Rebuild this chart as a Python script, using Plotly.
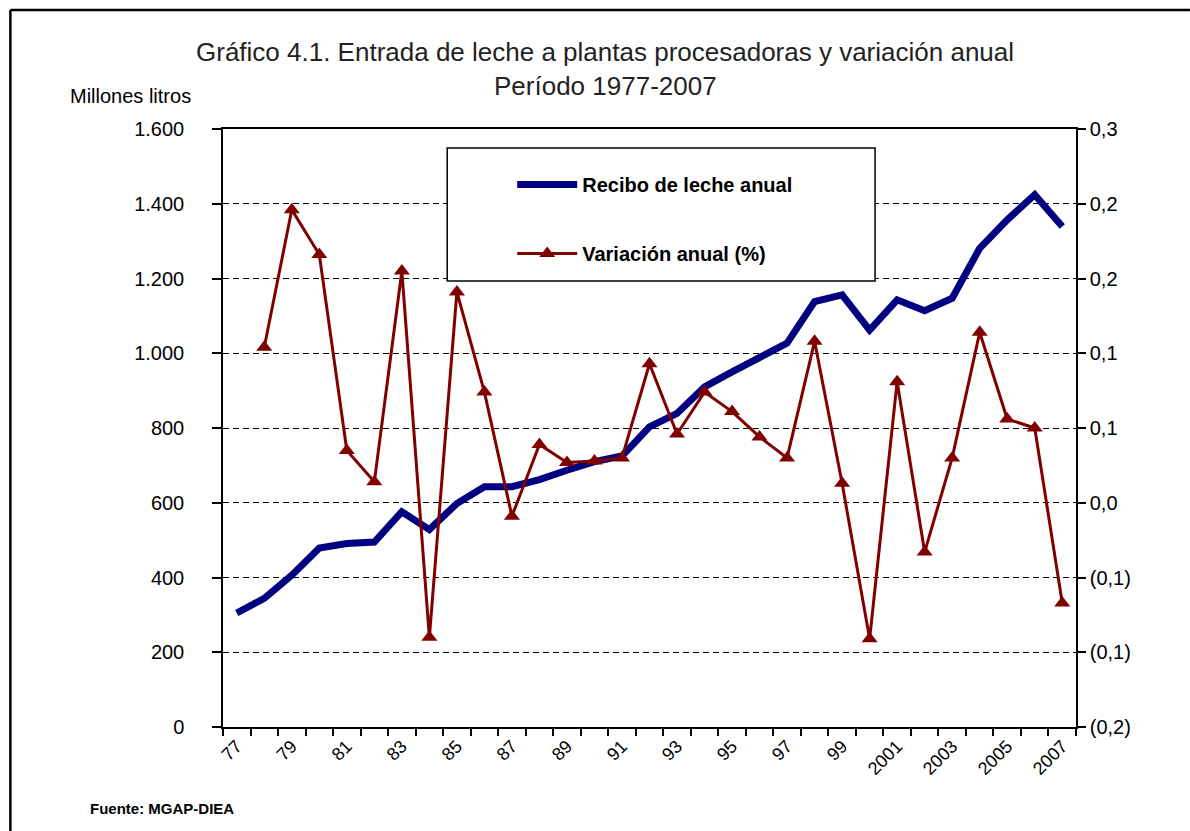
import plotly.graph_objects as go

years = list(range(1977, 2008))
recibo = [305, 344, 406, 479, 491, 495, 576, 528, 598, 643, 643, 662, 687, 710, 725,
          803, 839, 910, 950, 991, 1027, 1138, 1156, 1062, 1143, 1114, 1147, 1281, 1357, 1424, 1339]
var_years = list(range(1978, 2008))
variacion = [0.104, 0.196, 0.166, 0.035, 0.014, 0.155, -0.090, 0.141, 0.074, -0.009,
             0.039, 0.027, 0.028, 0.030, 0.093, 0.046, 0.074, 0.061, 0.044, 0.030,
             0.108, 0.013, -0.091, 0.081, -0.033, 0.030, 0.114, 0.056, 0.050, -0.067]
tick_years = list(range(1977, 2008, 2))
tick_text = ["77", "79", "81", "83", "85", "87", "89", "91", "93", "95", "97", "99",
             "2001", "2003", "2005", "2007"]
right_vals = [-0.15, -0.10, -0.05, 0.0, 0.05, 0.10, 0.15, 0.20, 0.25]
right_text = ["(0,2)", "(0,1)", "(0,1)", "0,0", "0,1", "0,1", "0,2", "0,2", "0,3"]

W, H = 1190, 831
L, R, T, B = 222.7, 1076.0, 129.0, 726.7
pw, ph = R - L, B - T
def px(x): return (x - L) / pw
def py(y): return (B - y) / ph

FONT = "Liberation Sans, Arial, sans-serif"

fig = go.Figure()
fig.add_trace(go.Scatter(
    x=years, y=recibo, name="Recibo de leche anual", mode="lines",
    line=dict(color="#000080", width=7), legendgroup="a"))
fig.add_trace(go.Scatter(
    x=var_years, y=variacion, name="Variación anual (%)", mode="lines+markers",
    line=dict(color="#800000", width=3),
    marker=dict(symbol="triangle-up", size=14, color="#800000"),
    yaxis="y2", legendgroup="b"))

fig.update_layout(
    width=W, height=H,
    margin=dict(l=L, r=W - R, t=T, b=H - B, pad=0),
    paper_bgcolor="white", plot_bgcolor="white",
    separators=",.",
    font=dict(family=FONT, color="black"),
    showlegend=True,
    legend=dict(x=px(512), y=py(165), xanchor="left", yanchor="top",
                bgcolor="rgba(0,0,0,0)", borderwidth=0,
                font=dict(size=20, family=FONT, weight="bold"),
                tracegroupgap=40, itemwidth=60),
    xaxis=dict(range=[1976.5, 2007.5], tickmode="array", tickvals=tick_years,
               ticktext=tick_text, tickangle=-45, ticks="", showgrid=False,
               showline=True, linecolor="black", linewidth=1.5, mirror=True,
               tickfont=dict(size=18), zeroline=False,
               minor=dict(tickmode="array", tickvals=[1976.5 + i for i in range(32)],
                          ticks="outside", ticklen=7, tickcolor="black", tickwidth=1.5,
                          showgrid=False)),
    yaxis=dict(range=[0, 1600], tickvals=[0, 200, 400, 600, 800, 1000, 1200, 1400, 1600],
               tickformat=",d", ticks="outside", ticklen=9, tickcolor="black", tickwidth=1.5,
               showline=True, linecolor="black", linewidth=1.5,
               showgrid=True, gridcolor="black", gridwidth=1.2, griddash="6px,4px",
               zeroline=False, tickfont=dict(size=20), ticklabelstandoff=24),
    yaxis2=dict(range=[-0.15, 0.25], overlaying="y", side="right",
                tickmode="array", tickvals=right_vals, ticktext=right_text,
                ticks="outside", ticklen=8, tickcolor="black", tickwidth=1.5,
                showline=True, linecolor="black", linewidth=1.5, showgrid=False,
                zeroline=False, tickfont=dict(size=20)),
    shapes=[
        dict(type="rect", xref="paper", yref="paper", x0=px(447), x1=px(875),
             y0=py(281), y1=py(148), fillcolor="white",
             line=dict(color="black", width=1.5), layer="above"),
        dict(type="line", xref="paper", yref="paper", x0=px(10), x1=px(1190),
             y0=py(10), y1=py(10), line=dict(color="black", width=2.5)),
        dict(type="line", xref="paper", yref="paper", x0=px(10), x1=px(10),
             y0=py(10), y1=py(831), line=dict(color="black", width=2.5)),
    ],
    annotations=[
        dict(text="Gráfico 4.1. Entrada de leche a plantas procesadoras y variación anual",
             xref="paper", yref="paper", x=px(605), y=py(52), showarrow=False,
             xanchor="center", yanchor="middle", font=dict(size=26, color="#222222")),
        dict(text="Período 1977-2007",
             xref="paper", yref="paper", x=px(605), y=py(86), showarrow=False,
             xanchor="center", yanchor="middle", font=dict(size=26, color="#222222")),
        dict(text="Millones litros", xref="paper", yref="paper", x=px(130), y=py(96),
             showarrow=False, xanchor="center", yanchor="middle", font=dict(size=20)),
        dict(text="<b>Fuente: MGAP-DIEA</b>", xref="paper", yref="paper", x=px(88), y=py(808),
             showarrow=False, xanchor="left", yanchor="middle", font=dict(size=15)),
    ],
)

fig.write_html("out.html", config={"displayModeBar": False},
               post_script="document.body.style.margin='0px';document.body.style.overflow='hidden';")
